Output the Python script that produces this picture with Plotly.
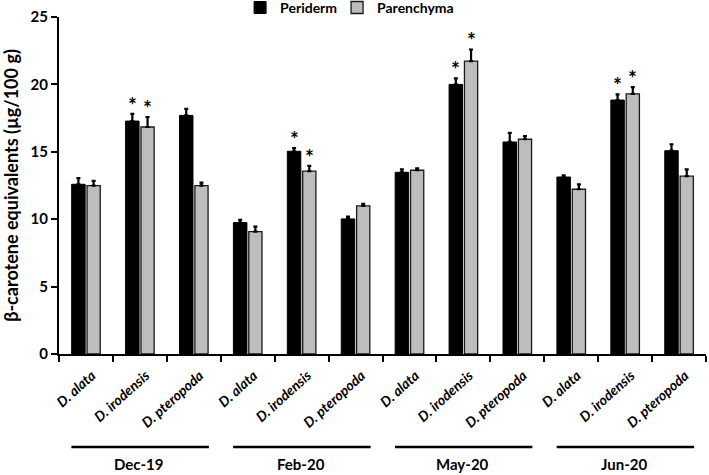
import plotly.graph_objects as go

species = ["D. alata", "D. irodensis", "D. pteropoda"]
months = ["Dec-19", "Feb-20", "May-20", "Jun-20"]
tick_labels = [s for m in months for s in species]

periderm = [12.59, 17.28, 17.70, 9.75, 15.04, 10.02, 13.48, 20.00, 15.73, 13.13, 18.84, 15.08]
periderm_err = [0.45, 0.54, 0.49, 0.20, 0.24, 0.17, 0.22, 0.44, 0.68, 0.13, 0.42, 0.48]
parenchyma = [12.49, 16.84, 12.49, 9.08, 13.56, 10.99, 13.63, 21.73, 15.93, 12.22, 19.30, 13.19]
parenchyma_err = [0.35, 0.74, 0.22, 0.37, 0.39, 0.14, 0.15, 0.86, 0.24, 0.37, 0.50, 0.51]
significant = [False, True, False, False, True, False, False, True, False, False, True, False]

FONT = "Lato"
x = list(range(len(tick_labels)))

fig = go.Figure()
fig.add_trace(go.Bar(
    x=x, y=periderm, name="Periderm", width=0.25, offset=-0.265,
    marker=dict(color="black", line=dict(color="black", width=1)),
    error_y=dict(type="data", array=periderm_err, arrayminus=[0] * 12, symmetric=False,
                 color="black", thickness=2.2, width=2),
))
fig.add_trace(go.Bar(
    x=x, y=parenchyma, name="Parenchyma", width=0.245, offset=0.02,
    marker=dict(color="#bdbdbd", line=dict(color="#1a1a1a", width=1.3)),
    error_y=dict(type="data", array=parenchyma_err, arrayminus=[0] * 12, symmetric=False,
                 color="black", thickness=2.2, width=2),
))

shapes = []
annotations = []
# significance stars
for i, sig in enumerate(significant):
    if sig:
        for xx, yy in ((i - 0.14, periderm[i] + periderm_err[i]),
                       (i + 0.142, parenchyma[i] + parenchyma_err[i])):
            annotations.append(dict(x=xx, y=yy, xref="x", yref="y", text="*",
                                    showarrow=False, yanchor="bottom", yshift=-5,
                                    font=dict(family=FONT, size=21, color="black", weight="bold")))

for g, m in enumerate(months):
    shapes.append(dict(type="line", xref="x", yref="paper",
                       x0=3 * g - 0.27, x1=3 * g + 2.28, y0=-0.276, y1=-0.276,
                       line=dict(color="black", width=2.5)))
    annotations.append(dict(x=3 * g + 0.98, y=-0.326, xref="x", yref="paper",
                            text=m, showarrow=False, yanchor="middle",
                            font=dict(family=FONT, size=15, color="black", weight="bold")))

fig.update_layout(
    width=709, height=475,
    margin=dict(l=59, r=3, t=17, b=121, autoexpand=False),
    paper_bgcolor="white", plot_bgcolor="white",
    barmode="overlay",
    shapes=shapes, annotations=annotations,
    legend=dict(orientation="h", x=0.453, xanchor="center", y=1.027, yanchor="middle",
                xref="paper", yref="paper", indentation=-5,
                font=dict(family=FONT, size=14, color="black", weight="bold"),
                itemwidth=30, traceorder="normal", bgcolor="rgba(0,0,0,0)"),
    xaxis=dict(
        range=[-0.5, 11.5], tickmode="array", tickvals=x, ticktext=tick_labels,
        tickangle=-42, ticks="", showline=True, linecolor="black", linewidth=2,
        ticklabelstandoff=6, ticklabelshift=6,
        tickfont=dict(family=FONT, size=14, color="black", weight="bold", style="italic"),
        minor=dict(tickmode="linear", tick0=-0.5, dtick=1, ticks="outside",
                   ticklen=6, tickwidth=2, tickcolor="black", showgrid=False),
        showgrid=False, zeroline=False, automargin=False,
    ),
    yaxis=dict(
        range=[0, 25], tickmode="linear", tick0=0, dtick=5,
        ticks="outside", ticklen=6, tickwidth=2, tickcolor="black",
        showline=True, linecolor="black", linewidth=2,
        tickfont=dict(family=FONT, size=15, color="black", weight="bold"),
        title=dict(text="β-carotene equivalents (µg/100 g)", standoff=8,
                   font=dict(family=FONT, size=18, color="black", weight="bold")),
        showgrid=False, zeroline=False, automargin=False,
    ),
)

fig.write_html("out.html", config={"displayModeBar": False},
               post_script="document.body.style.margin='0';")
